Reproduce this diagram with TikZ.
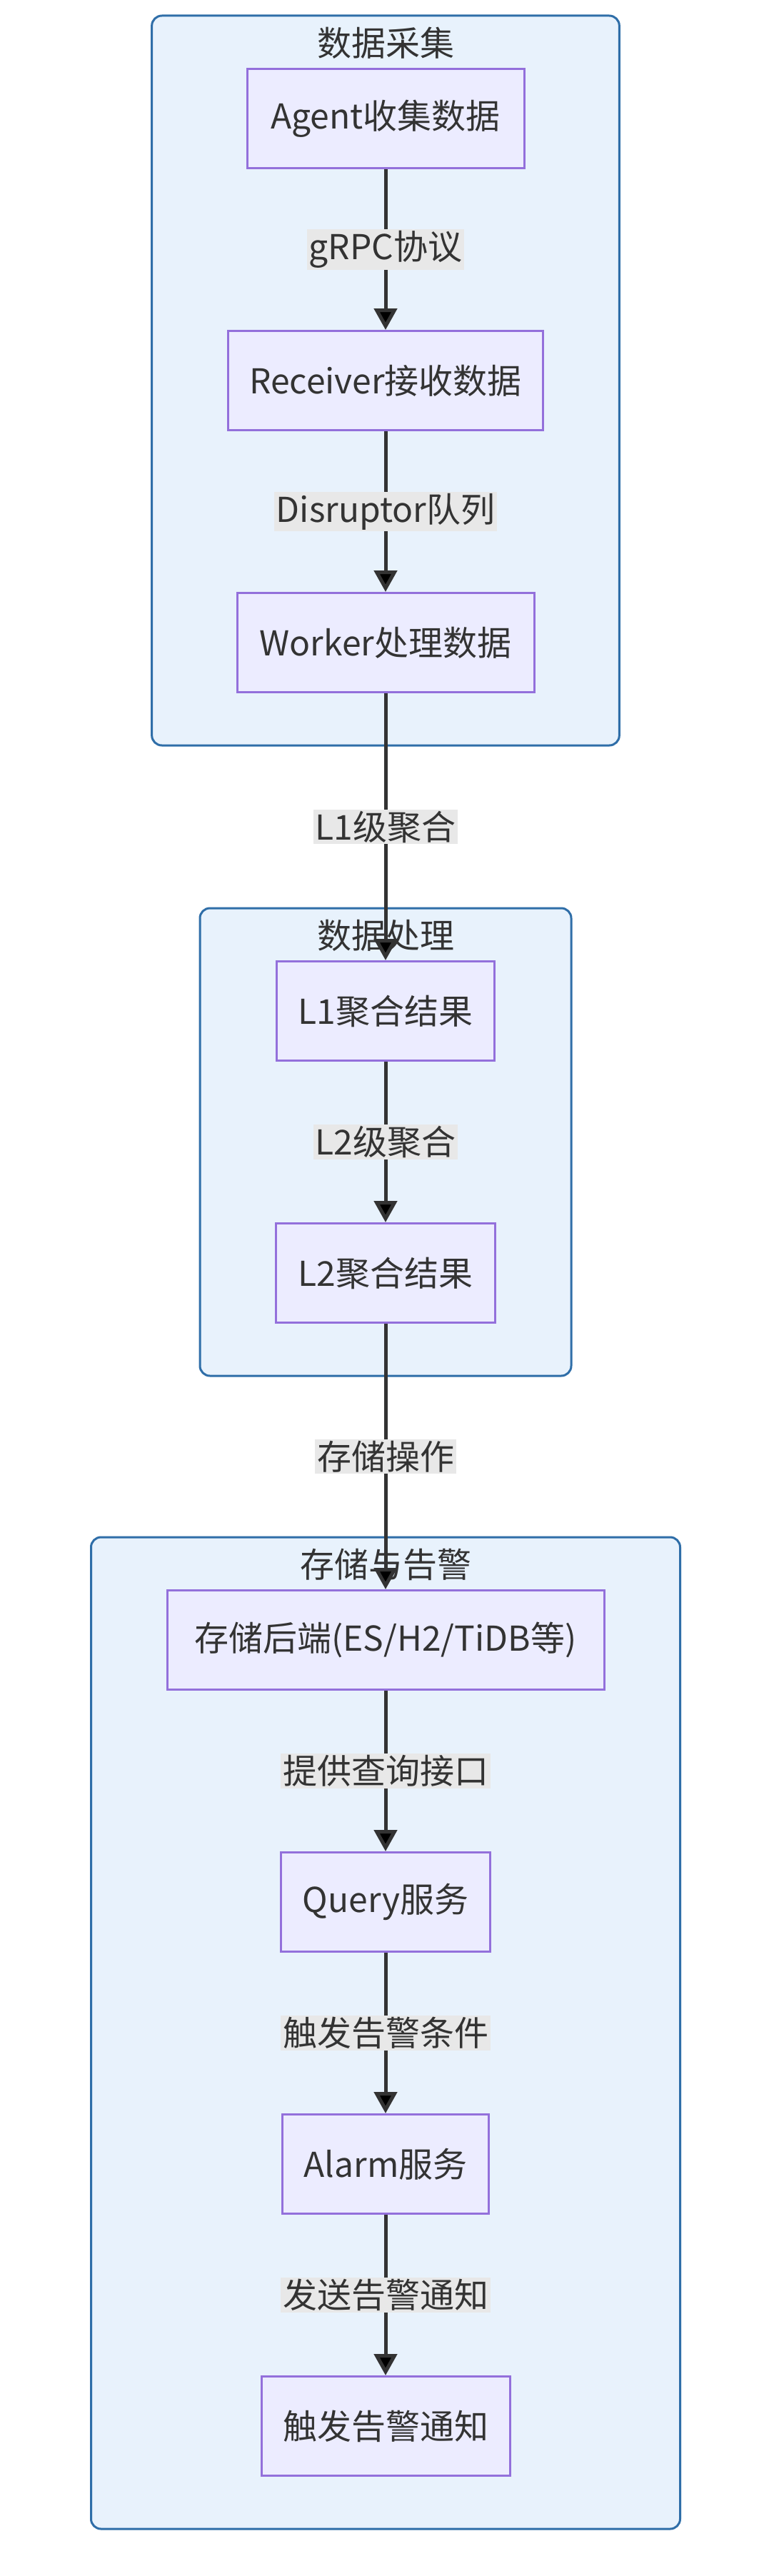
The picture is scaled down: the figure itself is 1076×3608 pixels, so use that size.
\documentclass[tikz,border=0pt]{standalone}
\usepackage{fontspec}
\setmainfont{Noto Sans CJK SC}
\usetikzlibrary{positioning,fit,backgrounds,arrows.meta}
\definecolor{nodefill}{HTML}{ECECFF}
\definecolor{nodeline}{HTML}{9370DB}
\definecolor{grpfill}{HTML}{E8F2FC}
\definecolor{grpline}{HTML}{2F6EA8}
\definecolor{lblfill}{HTML}{E8E8E8}
\definecolor{ink}{HTML}{333333}

\begin{document}
\begin{tikzpicture}[x=1pt,y=1pt,node distance=367pt,on grid,
    font=\fontsize{48}{57}\selectfont,text=ink,
    proc/.style={draw=nodeline,fill=nodefill,line width=3pt,minimum height=139pt,inner xsep=30pt},
    grp/.style={draw=grpline,fill=grpfill,line width=3pt,rounded corners=14pt,inner xsep=105pt,inner ysep=73pt},
    lbl/.style={fill=lblfill,inner xsep=3pt,inner ysep=2pt},
    flow/.style={draw=ink,line width=5pt,-{Triangle[length=30pt,width=32pt]}}]
     \useasboundingbox (0,0) rectangle (1076,-3608);
     % 数据采集
     \node[proc,minimum width=388pt] (agent) at (540,-166) {Agent收集数据};
     \node[proc,minimum width=439pt] (recv) [below=of agent] {Receiver接收数据};
     \node[proc,minimum width=416pt] (worker) [below=of recv] {Worker处理数据};
     % 数据处理
     \node[proc,minimum width=302pt] (l_1) [below=516pt of worker] {L1聚合结果};
     \node[proc,minimum width=307pt] (l_2) [below=of l_1] {L2聚合结果};
     % 存储与告警
     \node[proc,minimum width=612pt] (store) [below=514pt of l_2] {存储后端(ES/H2/TiDB等)};
     \node[proc,minimum width=293pt] (query) [below=of store] {Query服务};
     \node[proc,minimum width=288pt] (alarm) [below=of query] {Alarm服务};
     \node[proc,minimum width=348pt] (notify) [below=of alarm] {触发告警通知};
     \begin{scope}[on background layer]
      \fill[white] (0,0) rectangle (1076,-3608);
      \node[grp,fit=(agent)(recv)(worker)] (g_1) {};
      \node at ([yshift=-40pt]g_1.north) {数据采集};
      \node[grp,fit=(l_1)(l_2)] (g_2) {};
      \node at ([yshift=-40pt]g_2.north) {数据处理};
      \node[grp,fit=(store)(query)(alarm)(notify)] (g_3) {};
      \node at ([yshift=-40pt]g_3.north) {存储与告警};
     \end{scope}
      \path[flow]
      (agent) edge node[lbl] {gRPC协议} (recv)
      (recv) edge node[lbl] {Disruptor队列} (worker)
      (worker) edge node[lbl] {L1级聚合} (l_1)
      (l_1) edge node[lbl] {L2级聚合} (l_2)
      (l_2) edge node[lbl] {存储操作} (store)
      (store) edge node[lbl] {提供查询接口} (query)
      (query) edge node[lbl] {触发告警条件} (alarm)
      (alarm) edge node[lbl] {发送告警通知} (notify);
\end{tikzpicture}
\end{document}
